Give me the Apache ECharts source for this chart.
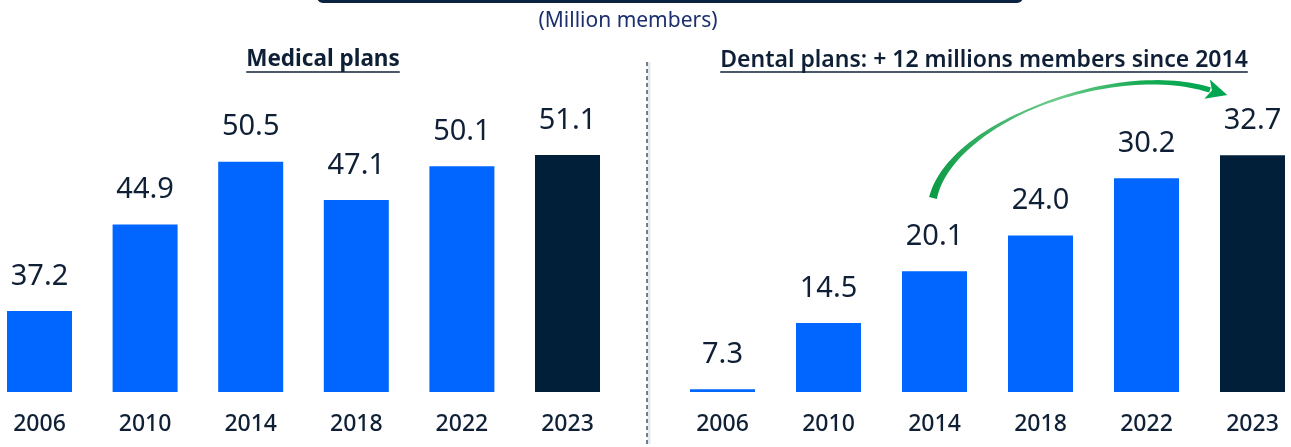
<!DOCTYPE html>
<html><head><meta charset="utf-8">
<script src="https://cdn.jsdelivr.net/npm/echarts@6/dist/echarts.min.js"></script>
<style>html,body{margin:0;padding:0;background:#fff}#c{width:1291px;height:447px}</style>
</head><body><div id="c"></div>
<script>
const categories = ['2006', '2010', '2014', '2018', '2022', '2023'];
const medicalValues = [37.2, 44.9, 50.5, 47.1, 50.1, 51.1];
const dentalValues = [7.3, 14.5, 20.1, 24.0, 30.2, 32.7];
const medicalTitle = 'Medical plans';
const dentalTitle = 'Dental plans: + 12 millions members since 2014';
const unitLabel = '(Million members)';

const BLUE = '#0066ff', NAVY = '#021f3a', TEXT = '#0f2036';
const FONT = '"Noto Sans", sans-serif';

function barData(vals) {
  return vals.map((v, i) => ({ value: v, itemStyle: { color: i === vals.length - 1 ? NAVY : BLUE } }));
}
function measure(font, txt) {
  const c = document.createElement('canvas').getContext('2d');
  c.font = font; return c.measureText(txt).width;
}

const chart = echarts.init(document.getElementById('c'), null, { renderer: 'canvas' });

const medFont = '700 22.5px ' + FONT;
const denFont = '600 23px ' + FONT;
const medW = measure(medFont, medicalTitle);
const denW = measure(denFont, dentalTitle);
const medCx = 323, denCx = 984, titleY = 60, ulY = 72;

function bez(p0, p1, p2, p3, t) {
  const u = 1 - t;
  return [u*u*u*p0[0] + 3*u*u*t*p1[0] + 3*u*t*t*p2[0] + t*t*t*p3[0],
          u*u*u*p0[1] + 3*u*u*t*p1[1] + 3*u*t*t*p2[1] + t*t*t*p3[1]];
}
const A0 = [933, 198], A1 = [950, 122], A2 = [1115, 60], A3 = [1210, 90];
const left = [], right = [];
const N = 60;
for (let i = 0; i <= N; i++) {
  const t = i / N;
  const p = bez(A0, A1, A2, A3, t);
  const q = bez(A0, A1, A2, A3, Math.min(1, t + 0.001));
  const r = bez(A0, A1, A2, A3, Math.max(0, t - 0.001));
  let dx = q[0] - r[0], dy = q[1] - r[1];
  const L = Math.hypot(dx, dy) || 1; dx /= L; dy /= L;
  const nx = -dy, ny = dx;
  let w;
  if (t < 0.45) w = 8 - (8 - 2) * (t / 0.45);
  else w = 2 + (5.5 - 2) * ((t - 0.45) / 0.55);
  left.push([p[0] + nx * w / 2, p[1] + ny * w / 2]);
  right.push([p[0] - nx * w / 2, p[1] - ny * w / 2]);
}
const arrowBody = left.concat(right.reverse());
const e = bez(A0, A1, A2, A3, 1), eb = bez(A0, A1, A2, A3, 0.98);
let tx = e[0] - eb[0], ty = e[1] - eb[1];
const tl = Math.hypot(tx, ty); tx /= tl; ty /= tl;
const hx = -ty, hy = tx;
const headLen = 18, headW = 10;
const head = [
  [e[0] + hx * headW - tx * 3, e[1] + hy * headW - ty * 3],
  [e[0] + tx * headLen, e[1] + ty * headLen],
  [e[0] - hx * headW - tx * 3, e[1] - hy * headW - ty * 3],
  [e[0] + tx * 2, e[1] + ty * 2]
];
const greenGrad = new echarts.graphic.LinearGradient(0, 0, 1, 0, [
  { offset: 0, color: '#0a9a44' },
  { offset: 0.45, color: '#6fcc8d' },
  { offset: 0.75, color: '#17ab53' },
  { offset: 1, color: '#00a650' }
]);

function seriesFor(idx, vals) {
  return {
    type: 'bar', xAxisIndex: idx, yAxisIndex: idx, data: barData(vals), barWidth: 65,
    label: { show: true, position: 'top', distance: 20, color: TEXT, fontFamily: FONT, fontSize: 29,
      formatter: p => p.value.toFixed(1) },
    silent: true, animation: false
  };
}
function xAxisFor(idx) {
  return { type: 'category', gridIndex: idx, data: categories,
    axisLine: { show: false }, axisTick: { show: false },
    axisLabel: { color: TEXT, fontFamily: FONT, fontSize: 23, fontWeight: 500, margin: 21 } };
}

chart.setOption({
  animation: false,
  grid: [
    { left: -13.3, width: 633.6, top: 55, bottom: 55, outerBoundsMode: 'none', containLabel: false },
    { left: 669.5, width: 636, top: 88, bottom: 55, outerBoundsMode: 'none', containLabel: false }
  ],
  xAxis: [xAxisFor(0), xAxisFor(1)],
  yAxis: [
    { type: 'value', gridIndex: 0, min: 30, max: 60, show: false },
    { type: 'value', gridIndex: 1, min: 7, max: 40, show: false }
  ],
  series: [seriesFor(0, medicalValues), seriesFor(1, dentalValues)],
  graphic: [
    { type: 'rect', shape: { x: 317, y: -30, width: 706, height: 33, r: 6 }, style: { fill: '#0b2340' } },
    { type: 'text', x: 628, y: 21, style: { text: unitLabel, font: '400 21px ' + FONT, fill: '#1c2f6e', textAlign: 'center', textVerticalAlign: 'middle' } },
    { type: 'text', x: medCx, y: titleY, style: { text: medicalTitle, font: medFont, fill: TEXT, textAlign: 'center', textVerticalAlign: 'middle' } },
    { type: 'line', shape: { x1: medCx - medW / 2, y1: ulY, x2: medCx + medW / 2, y2: ulY }, style: { stroke: TEXT, lineWidth: 1.5 } },
    { type: 'text', x: denCx, y: titleY, style: { text: dentalTitle, font: denFont, fill: TEXT, textAlign: 'center', textVerticalAlign: 'middle' } },
    { type: 'line', shape: { x1: denCx - denW / 2, y1: ulY, x2: denCx + denW / 2, y2: ulY }, style: { stroke: TEXT, lineWidth: 1.5 } },
    { type: 'line', shape: { x1: 649, y1: 62, x2: 649, y2: 444 }, style: { stroke: '#e6e8ec', lineWidth: 3 } },
    { type: 'line', shape: { x1: 647, y1: 62, x2: 647, y2: 444 }, style: { stroke: '#2c3e57', lineWidth: 1.3, lineDash: [4, 3] } },
    { type: 'polygon', shape: { points: arrowBody }, style: { fill: greenGrad } },
    { type: 'polygon', shape: { points: head }, style: { fill: '#00a650' } }
  ]
});
</script></body></html>
